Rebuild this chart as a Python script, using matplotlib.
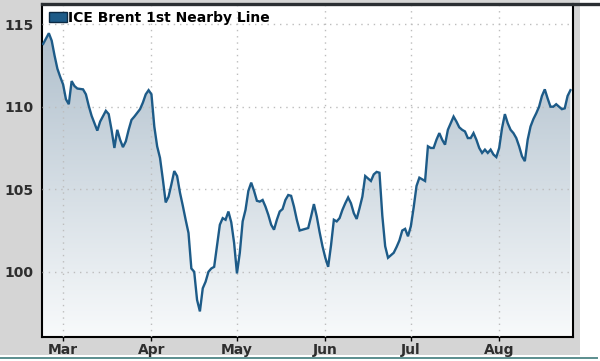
import matplotlib
matplotlib.use('Agg')
import matplotlib.pyplot as plt
import matplotlib.dates as mdates
from matplotlib.colors import LinearSegmentedColormap
from matplotlib.patches import Patch, Rectangle
from matplotlib.lines import Line2D
import numpy as np
import pandas as pd

series_name = 'ICE Brent 1st Nearby Line'

dates = [
    '2013-02-22', '2013-02-24', '2013-02-25', '2013-02-26', '2013-02-27', '2013-02-28',
    '2013-03-01', '2013-03-02', '2013-03-03', '2013-03-04', '2013-03-05', '2013-03-06',
    '2013-03-08', '2013-03-09', '2013-03-10', '2013-03-11', '2013-03-13', '2013-03-14',
    '2013-03-16', '2013-03-17', '2013-03-18', '2013-03-19', '2013-03-20', '2013-03-21',
    '2013-03-22', '2013-03-23', '2013-03-24', '2013-03-25', '2013-03-26', '2013-03-28',
    '2013-03-29', '2013-03-30', '2013-03-31',
    '2013-04-01', '2013-04-02', '2013-04-03', '2013-04-04', '2013-04-05', '2013-04-06',
    '2013-04-07', '2013-04-08', '2013-04-09', '2013-04-10', '2013-04-11', '2013-04-12',
    '2013-04-13', '2013-04-14', '2013-04-15', '2013-04-16', '2013-04-17', '2013-04-18',
    '2013-04-19', '2013-04-20', '2013-04-21', '2013-04-22', '2013-04-23', '2013-04-24',
    '2013-04-25', '2013-04-26', '2013-04-27', '2013-04-28', '2013-04-29', '2013-04-30',
    '2013-05-01', '2013-05-02', '2013-05-03', '2013-05-04', '2013-05-05', '2013-05-06',
    '2013-05-07', '2013-05-08', '2013-05-09', '2013-05-10', '2013-05-11', '2013-05-12',
    '2013-05-13', '2013-05-14', '2013-05-15', '2013-05-16', '2013-05-17', '2013-05-18',
    '2013-05-19', '2013-05-20', '2013-05-21', '2013-05-22', '2013-05-23', '2013-05-24',
    '2013-05-26', '2013-05-27', '2013-05-28', '2013-05-29', '2013-05-30', '2013-05-31',
    '2013-06-01', '2013-06-02', '2013-06-03', '2013-06-04', '2013-06-05', '2013-06-06',
    '2013-06-07', '2013-06-08', '2013-06-09', '2013-06-10', '2013-06-11', '2013-06-12',
    '2013-06-13', '2013-06-14', '2013-06-15', '2013-06-16', '2013-06-17', '2013-06-18',
    '2013-06-19', '2013-06-20', '2013-06-21', '2013-06-22', '2013-06-23', '2013-06-24',
    '2013-06-25', '2013-06-26', '2013-06-27', '2013-06-28', '2013-06-29', '2013-06-30',
    '2013-07-01', '2013-07-02', '2013-07-03', '2013-07-04', '2013-07-05', '2013-07-06',
    '2013-07-07', '2013-07-08', '2013-07-09', '2013-07-10', '2013-07-11', '2013-07-12',
    '2013-07-13', '2013-07-14', '2013-07-15', '2013-07-16', '2013-07-17', '2013-07-18',
    '2013-07-19', '2013-07-20', '2013-07-21', '2013-07-22', '2013-07-23', '2013-07-24',
    '2013-07-25', '2013-07-26', '2013-07-27', '2013-07-28', '2013-07-29', '2013-07-30',
    '2013-07-31',
    '2013-08-01', '2013-08-02', '2013-08-03', '2013-08-04', '2013-08-05', '2013-08-06',
    '2013-08-07', '2013-08-08', '2013-08-09', '2013-08-10', '2013-08-11', '2013-08-12',
    '2013-08-13', '2013-08-14', '2013-08-15', '2013-08-16', '2013-08-17', '2013-08-18',
    '2013-08-19', '2013-08-20', '2013-08-21', '2013-08-22', '2013-08-23', '2013-08-24',
    '2013-08-25', '2013-08-26',
]

prices = [
    113.8, 114.45, 114.0, 113.1, 112.3, 111.8,
    111.35, 110.45, 110.15, 111.55, 111.25, 111.1,
    111.05, 110.75, 110.05, 109.45, 108.55, 109.1,
    109.75, 109.55, 108.6, 107.5, 108.6, 108.0,
    107.55, 107.9, 108.6, 109.2, 109.4, 109.85,
    110.25, 110.75, 111.0,
    110.75, 108.8, 107.6, 106.9, 105.6, 104.2,
    104.55, 105.3, 106.1, 105.8, 104.8, 104.0,
    103.15, 102.35, 100.2, 100.0, 98.3, 97.6,
    99.0, 99.4, 100.0, 100.2, 100.3, 101.6,
    102.85, 103.25, 103.15, 103.65, 103.0, 101.75,
    99.9, 101.15, 103.05, 103.75, 104.9, 105.4,
    104.9, 104.3, 104.25, 104.35, 103.95, 103.45,
    102.85, 102.55, 103.15, 103.65, 103.8, 104.35,
    104.65, 104.6, 103.95, 103.15, 102.5, 102.55,
    102.65, 103.35, 104.1, 103.35, 102.4, 101.55,
    100.85, 100.3, 101.6, 103.15, 103.05, 103.25,
    103.75, 104.15, 104.5, 104.15, 103.55, 103.2,
    103.85, 104.55, 105.8, 105.65, 105.5, 105.9,
    106.05, 106.0, 103.4, 101.55, 100.85, 101.0,
    101.15, 101.5, 101.9, 102.5, 102.6, 102.15,
    102.75, 103.9, 105.2, 105.7, 105.6, 105.5,
    107.6, 107.5, 107.5, 108.0, 108.4, 108.0,
    107.7, 108.6, 109.0, 109.4, 109.1, 108.75,
    108.6, 108.5, 108.1, 108.1, 108.4, 108.0,
    107.5, 107.2, 107.4, 107.2, 107.4, 107.1,
    106.95,
    107.5, 108.7, 109.55, 109.0, 108.6, 108.4,
    108.1, 107.6, 107.0, 106.7, 108.0, 108.8,
    109.25, 109.6, 110.0, 110.65, 111.05, 110.5,
    110.0, 110.0, 110.15, 110.0, 109.85, 109.9,
    110.65, 111.0,
]

y_ticks = [100, 105, 110, 115]

line_color = '#1d5b88'
label_color = '#2e2e2e'

x = pd.to_datetime(dates)

fig = plt.figure(figsize=(6.0, 3.61), dpi=100)
fig.patch.set_facecolor('white')

# grey frame around the plot, thin teal rule at the bottom
fig.patches.append(Rectangle((0, 0.018), 0.967, 0.982, transform=fig.transFigure,
                             facecolor='#d5d5d5', edgecolor='none', zorder=-10))
fig.lines.append(Line2D([0, 0.995], [0.008, 0.008], transform=fig.transFigure,
                        color='#5b8e8e', lw=1.4, zorder=-5))

ax = fig.add_axes([0.07, 0.0665, 0.885, 0.9215])
ax.set_zorder(1)
ax.set_facecolor('white')

ymin, ymax = 96.05, 116.2
x0 = mdates.date2num(pd.Timestamp('2013-03-01')) - 7.4
x1 = mdates.date2num(pd.Timestamp('2013-03-01')) + 178.9

# gradient area under the line
area = ax.fill_between(x, prices, ymin, facecolor='none', edgecolor='none')
cmap = LinearSegmentedColormap.from_list('fade', ['#f8fafb', '#a9bac8'])
grad = np.linspace(0, 1, 256).reshape(-1, 1)
im = ax.imshow(grad, cmap=cmap, aspect='auto', origin='lower',
               extent=[x0, x1, ymin, ymax], zorder=1)
im.set_clip_path(area.get_paths()[0], transform=ax.transData)

ax.plot(x, prices, color=line_color, lw=1.7, zorder=3, solid_joinstyle='miter')

ax.set_xlim(x0, x1)
ax.set_ylim(ymin, ymax)
ax.set_yticks(y_ticks)
ax.xaxis.set_major_locator(mdates.MonthLocator())
ax.xaxis.set_major_formatter(mdates.DateFormatter('%b'))

ax.grid(True, color='#bdbdbd', linestyle=(0, (1, 3.5)), lw=1.0)
ax.set_axisbelow(False)

ax.tick_params(axis='y', length=0, pad=6, labelsize=10, labelcolor=label_color)
ax.tick_params(axis='x', length=3, width=1, pad=1, labelsize=10, labelcolor=label_color)
for lbl in ax.get_xticklabels() + ax.get_yticklabels():
    lbl.set_fontweight('bold')

for side in ['left', 'bottom', 'right']:
    ax.spines[side].set_color('black')
    ax.spines[side].set_linewidth(1.5)
ax.spines['top'].set_visible(False)
fig.lines.append(Line2D([0.07, 1.0], [0.99, 0.99], transform=fig.transFigure,
                        color='#2b2f33', lw=2.4, zorder=5))

handle = Patch(facecolor=line_color, edgecolor='#0c2a44', lw=1)
ax.legend([handle], [series_name], loc='upper left', bbox_to_anchor=(0.008, 0.988),
          frameon=False, handlelength=1.3, handleheight=0.7, handletextpad=0.1,
          borderpad=0.2, borderaxespad=0,
          prop={'weight': 'bold', 'size': 10})

fig.savefig('out.png', dpi=100)
